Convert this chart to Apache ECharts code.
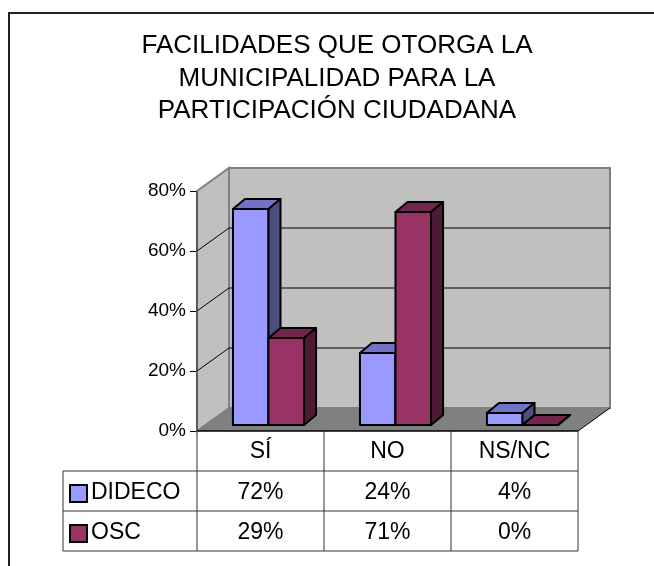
<!DOCTYPE html>
<html>
<head>
<meta charset="utf-8">
<script src="https://cdn.jsdelivr.net/npm/echarts@6/dist/echarts.min.js"></script>
<style>
  html, body { margin: 0; padding: 0; background: #fff; }
  #myChart { width: 654px; height: 566px; }
</style>
</head>
<body>
<div id="myChart"></div>
<script>
// datos
const categories = ['SÍ', 'NO', 'NS/NC'];
const seriesNames = ['DIDECO', 'OSC'];
const dideco = [72, 24, 4];
const osc = [29, 71, 0];
const yTicks = [0, 20, 40, 60, 80];
const titleText = 'FACILIDADES QUE OTORGA LA\nMUNICIPALIDAD PARA LA\nPARTICIPACIÓN CIUDADANA';

const FONT = 'Liberation Sans, Arial, sans-serif';
// profundidad de las paredes 3D
const DX = 32, DY = -23;
// cara frontal de las barras y su profundidad
const FDX = 8, FDY = -6, BDX = 12, BDY = -10;

const colors = [
  { front: '#9999FF', top: '#7373C6', side: '#4D4D80' },
  { front: '#993366', top: '#73264D', side: '#4D1A33' }
];

function renderWalls(params, api) {
  const cs = params.coordSys;
  const x0 = cs.x, x1 = cs.x + cs.width;
  const yTop = api.coord([0, yTicks[yTicks.length - 1]])[1];
  const yb = api.coord([0, 0])[1];
  const children = [];
  // piso
  children.push({
    type: 'polygon',
    shape: { points: [[x0, yb], [x1, yb], [x1 + DX, yb + DY], [x0 + DX, yb + DY]] },
    style: { fill: '#808080' }
  });
  // pared del fondo
  children.push({
    type: 'polygon',
    shape: { points: [[x0 + DX, yTop + DY], [x1 + DX, yTop + DY], [x1 + DX, yb + DY], [x0 + DX, yb + DY]] },
    style: { fill: '#C0C0C0', stroke: '#808080', lineWidth: 2 }
  });
  // pared izquierda
  children.push({
    type: 'polygon',
    shape: { points: [[x0, yTop], [x0 + DX, yTop + DY], [x0 + DX, yb + DY], [x0, yb]] },
    style: { fill: '#C0C0C0', stroke: '#808080', lineWidth: 2 }
  });
  // triángulo del piso sobre la pared izquierda
  children.push({
    type: 'polygon',
    shape: { points: [[x0, yb], [x0 + DX, yb + DY], [x0 + DX + 1, yb]] },
    style: { fill: '#808080' }
  });
  // líneas de división
  yTicks.slice(1, -1).forEach(function (v) {
    const y = api.coord([0, v])[1];
    children.push({
      type: 'polyline',
      shape: { points: [[x0, y], [x0 + DX, y + DY], [x1 + DX, y + DY]] },
      style: { stroke: '#000', lineWidth: 1, fill: null }
    });
  });
  // borde frontal izquierdo
  children.push({
    type: 'line',
    shape: { x1: x0, y1: yTop, x2: x0, y2: yb },
    style: { stroke: '#333', lineWidth: 1 }
  });
  // borde derecho del piso
  children.push({
    type: 'line',
    shape: { x1: x1, y1: yb, x2: x1 + DX, y2: yb + DY },
    style: { stroke: '#000', lineWidth: 1 }
  });
  return { type: 'group', children: children };
}

function makeBarRenderer(sIdx) {
  return function (params, api) {
    const cat = api.value(0);
    const base = api.coord([cat, 0]);
    const top = api.coord([cat, api.value(1)]);
    const bw = api.size([1, 0])[0] * 0.28;
    const xl = (sIdx === 0 ? base[0] - bw : base[0]) + FDX;
    const ty = top[1] + FDY, by = base[1] + FDY;
    const c = colors[sIdx];
    const st = { stroke: '#000', lineWidth: 2, lineJoin: 'round' };
    return {
      type: 'group',
      children: [
        { type: 'rect', shape: { x: xl, y: ty, width: bw, height: by - ty },
          style: Object.assign({ fill: c.front }, st) },
        { type: 'polygon',
          shape: { points: [[xl, ty], [xl + bw, ty], [xl + bw + BDX, ty + BDY], [xl + BDX, ty + BDY]] },
          style: Object.assign({ fill: c.top }, st) },
        { type: 'polygon',
          shape: { points: [[xl + bw, ty], [xl + bw + BDX, ty + BDY], [xl + bw + BDX, by + BDY], [xl + bw, by]] },
          style: Object.assign({ fill: c.side }, st) }
      ]
    };
  };
}

function renderTable(params, api) {
  const cs = params.coordSys;
  const x0 = cs.x, x1 = cs.x + cs.width;
  const yb = api.coord([0, 0])[1];
  const rowH = 40;
  const legendX = 63;
  const catW = api.size([1, 0])[0];
  const rows = [dideco, osc];
  const yEnd = yb + rowH * (rows.length + 1);
  const ln = { stroke: '#333', lineWidth: 1 };
  const txt = { fontSize: 23, fontFamily: FONT, fill: '#000', verticalAlign: 'middle' };
  const children = [];
  // líneas horizontales
  children.push({ type: 'line', shape: { x1: x0, y1: yb, x2: x1, y2: yb }, style: { stroke: '#000', lineWidth: 1.5 } });
  for (let r = 1; r <= rows.length + 1; r++) {
    const y = yb + rowH * r;
    children.push({ type: 'line', shape: { x1: legendX, y1: y, x2: x1, y2: y }, style: ln });
  }
  // líneas verticales
  children.push({ type: 'line', shape: { x1: legendX, y1: yb + rowH, x2: legendX, y2: yEnd }, style: ln });
  for (let i = 0; i <= categories.length; i++) {
    const x = x0 + catW * i;
    children.push({ type: 'line', shape: { x1: x, y1: yb, x2: x, y2: yEnd }, style: ln });
  }
  // encabezado
  categories.forEach(function (name, i) {
    const cx = api.coord([i, 0])[0];
    children.push({ type: 'text', x: cx, y: yb + rowH / 2 + 1,
      style: Object.assign({ text: name, align: 'center' }, txt) });
  });
  // filas
  rows.forEach(function (vals, r) {
    const cy = yb + rowH * (r + 1.5) + 2;
    children.push({ type: 'rect', shape: { x: legendX + 7, y: cy - 8, width: 17, height: 17 },
      style: { fill: colors[r].front, stroke: '#000', lineWidth: 2 } });
    children.push({ type: 'text', x: legendX + 28, y: cy,
      style: Object.assign({ text: seriesNames[r], align: 'left' }, txt) });
    vals.forEach(function (v, i) {
      const cx = api.coord([i, 0])[0];
      children.push({ type: 'text', x: cx, y: cy,
        style: Object.assign({ text: v + '%', align: 'center' }, txt) });
    });
  });
  return { type: 'group', children: children };
}

const myChart = echarts.init(document.getElementById('myChart'));
const option = {
  animation: false,
  backgroundColor: '#fff',
  graphic: [
    {
      type: 'text', x: 337, y: 30,
      style: { text: titleText, fontSize: 26, fontFamily: FONT, fill: '#000',
        lineHeight: 32.5, align: 'center', verticalAlign: 'top' }
    },
    {
      type: 'rect', z: 100,
      shape: { x: 9, y: 13, width: 700, height: 700 },
      style: { fill: null, stroke: '#222', lineWidth: 2 }
    }
  ],
  grid: { left: 197, right: 76, top: 191, bottom: 135 },
  xAxis: {
    type: 'category',
    data: categories,
    axisLine: { show: false },
    axisTick: { show: false },
    axisLabel: { show: false }
  },
  yAxis: {
    type: 'value',
    min: 0,
    max: 80,
    interval: 20,
    axisLine: { show: false },
    axisTick: { show: true, length: 7, lineStyle: { color: '#000' } },
    splitLine: { show: false },
    axisLabel: { formatter: '{value}%', fontSize: 19, fontFamily: FONT, color: '#000', margin: 11 }
  },
  series: [
    { type: 'custom', name: 'paredes', z: 1, renderItem: renderWalls, data: [[0, 0]], silent: true },
    { type: 'custom', name: seriesNames[0], z: 2, renderItem: makeBarRenderer(0),
      data: dideco.map(function (v, i) { return [i, v]; }) },
    { type: 'custom', name: seriesNames[1], z: 2, renderItem: makeBarRenderer(1),
      data: osc.map(function (v, i) { return [i, v]; }) },
    { type: 'custom', name: 'tabla', z: 3, renderItem: renderTable, data: [[0, 0]], silent: true }
  ]
};
myChart.setOption(option);
</script>
</body>
</html>
